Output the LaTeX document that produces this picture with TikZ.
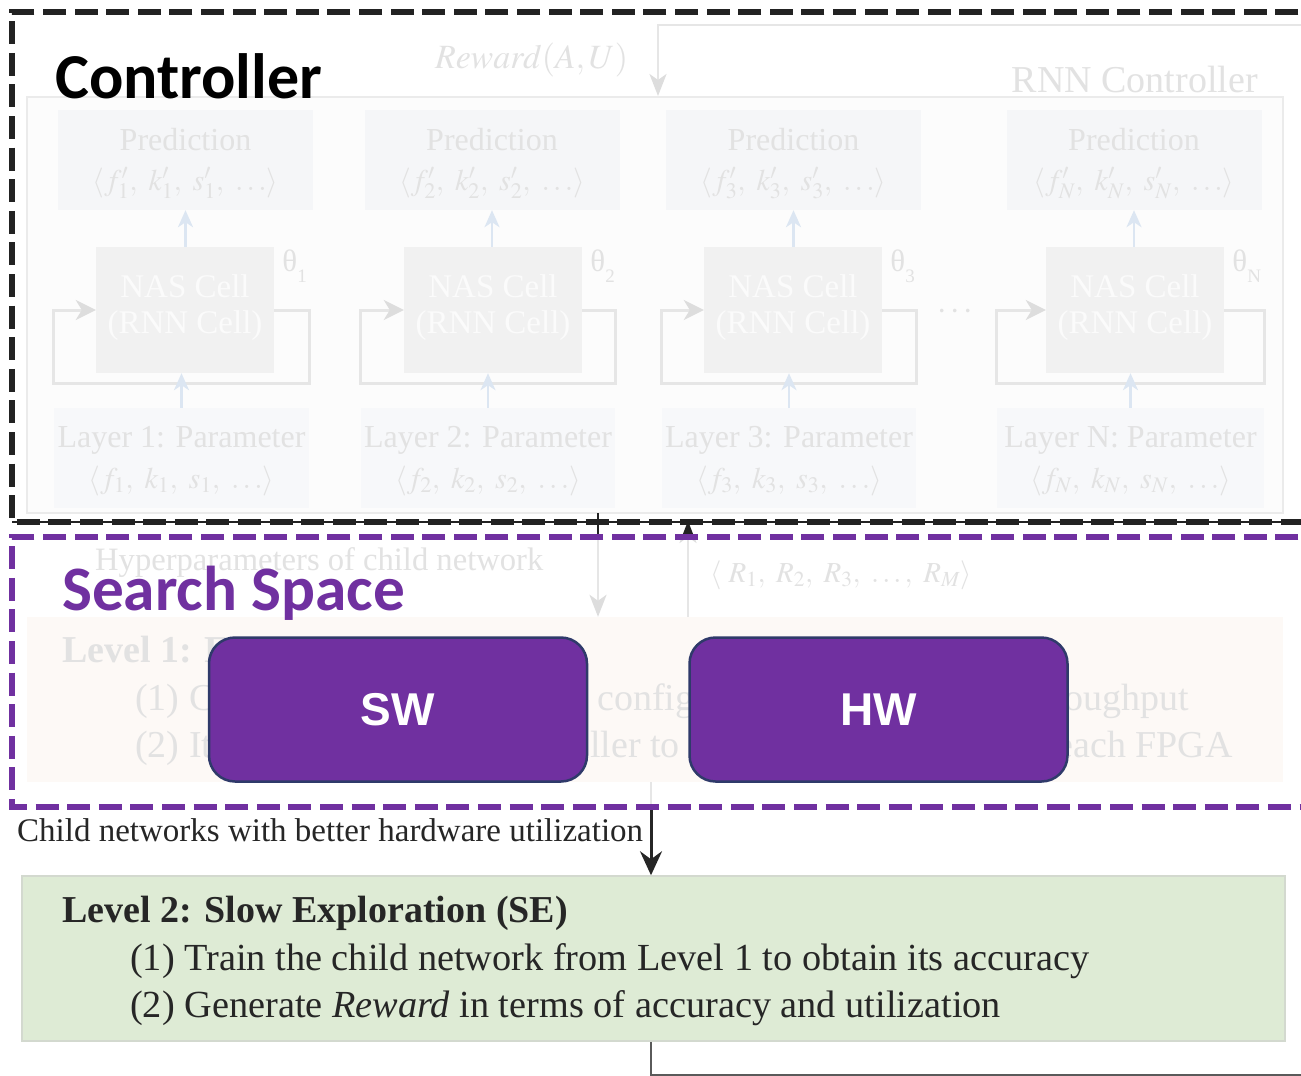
\documentclass[tikz,border=0pt]{standalone}
\usepackage{mathptmx}
\usepackage[no-math]{fontspec}
\setmainfont{Liberation Serif}
\newfontfamily\calibfont{Carlito}
\newfontfamily\arialfont{Liberation Sans}
\usetikzlibrary{arrows.meta,calc}

\definecolor{ctrlpurple}{HTML}{7030A0}
\definecolor{boxedge}{HTML}{2F3A6A}
\definecolor{dashblack}{HTML}{222222}
\definecolor{fadetext}{HTML}{E2E2E2}
\definecolor{fadeline}{HTML}{E6E6E6}
\definecolor{fadehead}{HTML}{DDDDDD}
\definecolor{fadeblue}{HTML}{DCE6F2}
\definecolor{predfill}{HTML}{F5F6F8}
\definecolor{cellfill}{HTML}{F1F1F1}
\definecolor{celltext}{HTML}{FBFBFB}
\definecolor{layerfill}{HTML}{F7F8FA}
\definecolor{rnnfill}{HTML}{FCFCFC}
\definecolor{rnnedge}{HTML}{EBEBEB}
\definecolor{lvlonefill}{HTML}{FDF9F6}
\definecolor{lvltwofill}{HTML}{DEEBD5}
\definecolor{lvltwoedge}{HTML}{D3D9CF}
\definecolor{darktext}{HTML}{262626}
\definecolor{outline}{HTML}{5A5A5A}

\newcommand\pxfs[1]{\fontsize{#1}{#1}\selectfont}

\begin{document}
\begin{tikzpicture}[x=1pt,y=-1pt,
  plainbox/.style={rectangle, inner sep=0pt, draw=none},
  predbox/.style={plainbox, fill=predfill, minimum width=255pt, minimum height=100pt},
  cellbox/.style={plainbox, fill=cellfill, minimum width=178pt, minimum height=126pt},
  layerbox/.style={plainbox, fill=layerfill, minimum height=100pt},
  fadetxt/.style={inner sep=0pt, text=fadetext, font=\pxfs{32}},
  celltxt/.style={inner sep=0pt, text=celltext, font=\pxfs{33}},
  fadearrow/.style={draw=fadeline, line width=2.5pt,
    -{Stealth[length=22pt,width=17pt,inset=6pt,color=fadehead]}},
  bluearrow/.style={draw=fadeblue, line width=2.5pt,
    -{Stealth[length=17pt,width=15pt,inset=5pt]}},
  loopline/.style={draw=fadeline, line width=3pt,
    -{Stealth[length=20pt,width=20pt,inset=6pt,color=fadehead]}},
  blackdash/.style={draw=dashblack, line width=6pt, dash pattern=on 23pt off 8.6pt},
  purpledash/.style={draw=ctrlpurple, line width=6pt, dash pattern=on 23pt off 8.6pt},
  choicebox/.style={rectangle, rounded corners=26pt, fill=ctrlpurple, draw=boxedge,
    line width=2.5pt, minimum width=378pt, minimum height=144pt, text=white,
    font=\arialfont\bfseries\pxfs{46}},
  regiontitle/.style={inner sep=0pt, anchor=base west, font=\calibfont\bfseries\pxfs{64}},
  lvltxt/.style={inner sep=0pt, anchor=base west, font=\pxfs{38.3}}
]
\useasboundingbox (0,0) rectangle (1301,1076);
\clip (0,0) rectangle (1301,1076);
\fill[white] (0,0) rectangle (1301,1076);

% ---------- RNN controller (faded) ----------
\node[plainbox, fill=rnnfill, draw=rnnedge, line width=2pt,
      minimum width=1256pt, minimum height=416pt] (rnn) at (655,305) {};
\node[fadetxt, font=\pxfs{38}, anchor=base east] (rnnlbl) at (1258,92) {RNN Controller};
\node[fadetxt, font=\pxfs{34}, anchor=base west] (rwdlbl) at (435,68) {$Reward(A,U)$};

\coordinate (rwfar) at (1330,25);
\coordinate (rwcorner) at (658,25);
\draw[fadearrow] (rwfar) -- (rwcorner) -- (rwcorner |- rnn.north);

% prediction boxes
\foreach \nm/\cx/\idx in {1/185.5/1, 2/492/2, 3/793.5/3, N/1134/N}{
  \node[predbox] (pred\nm) at (\cx,160) {};
  \node[fadetxt, anchor=base] (predt\nm) at (\cx,150) {Prediction};
  \node[fadetxt, font=\pxfs{30}, anchor=base] (predm\nm) at (\cx,190)
       {$\langle f_{\idx}',\ k_{\idx}',\ s_{\idx}',\ \ldots\rangle$};
}

% NAS cells with their parameters
\foreach \nm/\cx in {1/185, 2/493, 3/793, N/1135}{
  \node[cellbox] (cell\nm) at (\cx,310) {};
  \node[celltxt, anchor=base] (cella\nm) at (\cx,297) {NAS Cell};
  \node[celltxt, anchor=base] (cellb\nm) at (\cx,333) {(RNN Cell)};
  \node[fadetxt, anchor=base west, font=\pxfs{31}] (theta\nm) at ($(cell\nm.north east)+(8,25)$)
       {θ\raisebox{-0.36em}{\pxfs{19}\nm}};
}

% layer parameter boxes
\foreach \nm/\cx/\w in {1/181.5/255, 2/488/254, 3/789/254, N/1130.5/267}{
  \node[layerbox, minimum width=\w pt] (layer\nm) at (\cx,458) {};
  \node[fadetxt, anchor=base] (layert\nm) at (\cx,447) {Layer \nm: Parameter};
  \node[fadetxt, font=\pxfs{30}, anchor=base] (layerm\nm) at (\cx,488)
       {$\langle f_{\nm},\ k_{\nm},\ s_{\nm},\ \ldots\rangle$};
  \coordinate (loopr\nm) at ($(layer\nm.north east)+(0,-24)$);
  \coordinate (loopl\nm) at ($(layer\nm.north west)+(0,-24)$);
  \draw[loopline] (cell\nm.east) -| (loopr\nm) -- (loopl\nm) |- (cell\nm.west);
  \draw[bluearrow] (layer\nm.north) -- (layer\nm.north |- cell\nm.south);
  \draw[bluearrow] (pred\nm.south |- cell\nm.north) -- (pred\nm.south);
}
\node[fadetxt, font=\pxfs{34}] (celldots) at (955,312) {$\cdots$};

% ---------- Level 1 (faded) ----------
\node[plainbox, fill=lvlonefill, minimum width=1256pt, minimum height=165pt] (lvl1) at (655,699.5) {};
\node[fadetxt, anchor=base west, font=\bfseries\pxfs{38}] (lvl1head) at (62,662) {Level 1: F};
\node[fadetxt, anchor=base west, font=\pxfs{38}] (lvl1a) at (135,710) {(1) C};
\node[fadetxt, anchor=base west, font=\pxfs{38}] (lvl1b) at (597,710) {config};
\node[fadetxt, anchor=base west, font=\pxfs{38}] (lvl1c) at (1064,710) {oughput};
\node[fadetxt, anchor=base west, font=\pxfs{38}] (lvl1d) at (135,757) {(2) It};
\node[fadetxt, anchor=base west, font=\pxfs{38}] (lvl1e) at (590,757) {ller to};
\node[fadetxt, anchor=base east, font=\pxfs{38}] (lvl1f) at (1233,757) {each FPGA};

\node[fadetxt, anchor=base west, font=\pxfs{32.6}] (hyplbl) at (95,570) {Hyperparameters of child network};
\node[fadetxt, anchor=base west, font=\pxfs{29}] (rlist) at (710,582)
     {$\langle\ R_1,\ R_2,\ R_3,\ \ldots,\ R_M\rangle$};

% connectors between controller and level 1
\coordinate (hptop) at (598,513);
\coordinate (rtop) at (688,521);
\draw[fadearrow] (hptop) -- (hptop |- lvl1.north);
\draw[fadearrow] (rtop |- lvl1.north) -- (rtop);
\begin{scope}
  \clip (560,500) rectangle (720,534);
  \draw[draw=dashblack, line width=2.5pt] (hptop) -- (hptop |- lvl1.north);
  \draw[draw=dashblack, line width=2.5pt,
        -{Stealth[length=22pt,width=17pt,inset=6pt]}] (rtop |- lvl1.north) -- (rtop);
\end{scope}

% ---------- Level 2 ----------
\node[plainbox, fill=lvltwofill, draw=lvltwoedge, line width=1.5pt,
      minimum width=1263pt, minimum height=165pt] (lvl2) at (653.5,958.5) {};
\node[lvltxt, text=darktext, font=\bfseries\pxfs{38}] (lvl2head) at (62,922) {Level 2: Slow Exploration (SE)};
\node[lvltxt, text=darktext] (lvl2a) at (130,970) {(1) Train the child network from Level 1 to obtain its accuracy};
\node[lvltxt, text=darktext] (lvl2b) at (130,1017) {(2) Generate \textit{Reward} in terms of accuracy and utilization};
\node[lvltxt, text=darktext, font=\pxfs{33}] (childlbl) at (17,841) {Child networks with better hardware utilization};

\coordinate (dnsplit) at (651,808);
\draw[draw=fadeline, line width=2.5pt] (dnsplit |- lvl1.south) -- (dnsplit);
\draw[draw=darktext, line width=3pt, -{Stealth[length=24pt,width=22pt,inset=8pt]}]
     (dnsplit) -- (dnsplit |- lvl2.north);

\coordinate (fbcorner) at (651,1075);
\coordinate (fbfar) at (1330,1075);
\draw[draw=outline, line width=2pt] (fbcorner |- lvl2.south) -- (fbcorner) -- (fbfar);

% ---------- region frames ----------
\coordinate (ctrlTR) at (1330,12);
\coordinate (ctrlTL) at (12,12);
\coordinate (ctrlBL) at (12,522);
\coordinate (ctrlBR) at (1330,522);
\draw[draw=dashblack, line width=1.2pt] (ctrlBL) -- (ctrlBR);
\draw[blackdash] (ctrlTR) -- (ctrlTL) -- (ctrlBL) -- (ctrlBR);

\coordinate (ssTR) at (1330,537);
\coordinate (ssTL) at (12,537);
\coordinate (ssBL) at (12,807);
\coordinate (ssBR) at (1330,807);
\draw[purpledash] (ssTR) -- (ssTL) -- (ssBL) -- (ssBR);

\node[regiontitle, text=black] (ctrltitle) at (55,98) {Controller};
\node[regiontitle, text=ctrlpurple, font=\calibfont\bfseries\pxfs{63.3}] (sstitle) at (62,610) {Search Space};

% ---------- SW / HW choices ----------
\node[choicebox] (sw) at (398,709.5) {SW};
\node[choicebox] (hw) at (878.5,709.5) {HW};
\end{tikzpicture}
\end{document}
